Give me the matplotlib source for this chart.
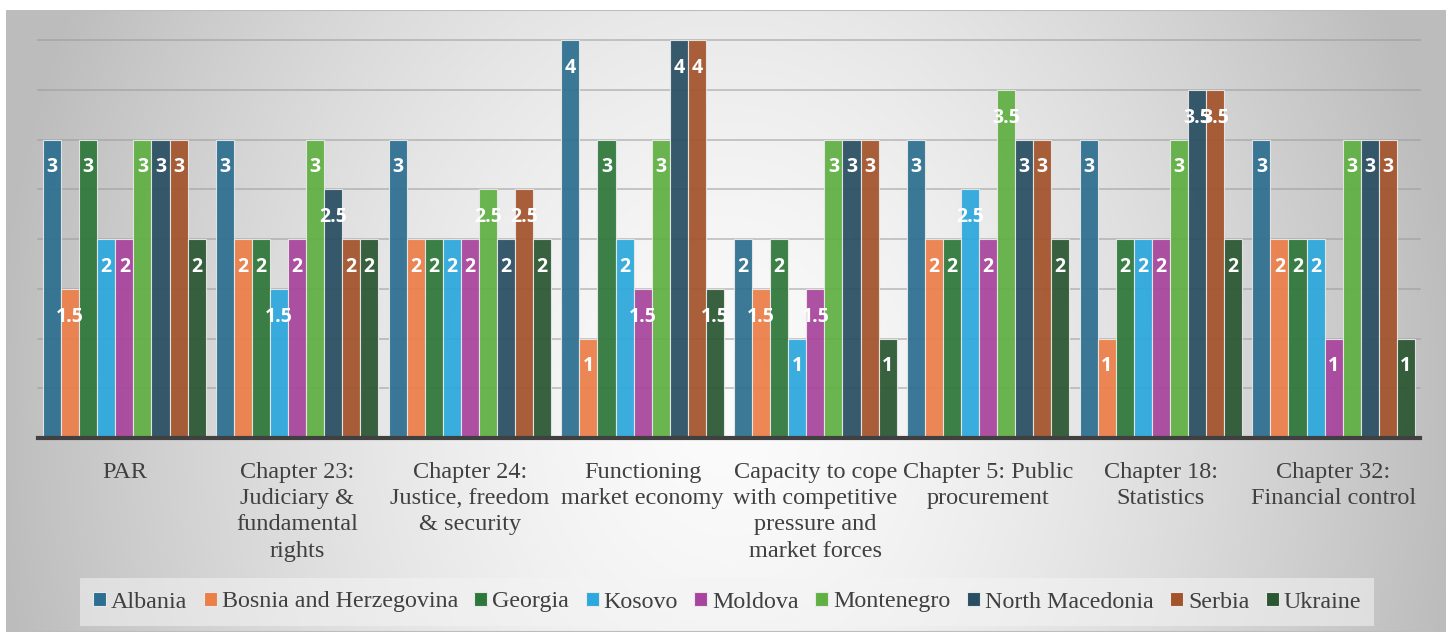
import numpy as np
import matplotlib.pyplot as plt

categories = ["PAR",
              "Chapter 23:\nJudiciary &\nfundamental\nrights",
              "Chapter 24:\nJustice, freedom\n& security",
              "Functioning\nmarket economy",
              "Capacity to cope\nwith competitive\npressure and\nmarket forces",
              "Chapter 5: Public\nprocurement",
              "Chapter 18:\nStatistics",
              "Chapter 32:\nFinancial control"]

countries = ["Albania", "Bosnia and Herzegovina", "Georgia", "Kosovo", "Moldova",
             "Montenegro", "North Macedonia", "Serbia", "Ukraine"]

albania = [3, 3, 3, 4, 2, 3, 3, 3]
bosnia = [1.5, 2, 2, 1, 1.5, 2, 1, 2]
georgia = [3, 2, 2, 3, 2, 2, 2, 2]
kosovo = [2, 1.5, 2, 2, 1, 2.5, 2, 2]
moldova = [2, 2, 2, 1.5, 1.5, 2, 2, 1]
montenegro = [3, 3, 2.5, 3, 3, 3.5, 3, 3]
north_macedonia = [3, 2.5, 2, 4, 3, 3, 3.5, 3]
serbia = [3, 2, 2.5, 4, 3, 3, 3.5, 3]
ukraine = [2, 2, 2, 1.5, 1, 2, 2, 1]

series = [albania, bosnia, georgia, kosovo, moldova, montenegro,
          north_macedonia, serbia, ukraine]
colors = ["#2d6f90", "#ec7e48", "#2e773a", "#2ba8dc", "#a8449d",
          "#5fb042", "#284e62", "#a3532a", "#2a5632"]

W, H = 1453, 632
fig = plt.figure(figsize=(W / 100, H / 100), dpi=100)
fig.patch.set_facecolor("white")

# gradient background panel (light centre, grey edges)
bg = fig.add_axes([6 / W, 0, (1446 - 6) / W, (H - 10) / H], zorder=0)
yy, xx = np.mgrid[0:311, 0:720] * 2.0
r = np.sqrt(((xx - 720) / 720) ** 2 + ((yy - 400) / 900) ** 2)
g = np.clip(0.985 - 0.24 * r ** 1.5, 0.74, 0.985)
bg.imshow(np.dstack([g, g, g]), aspect="auto", extent=[0, 1, 0, 1], origin="upper")
bg.set_axis_off()
bg.add_patch(plt.Rectangle((0, 0), 1, 1, transform=bg.transAxes, fill=False,
                           edgecolor="#bdbdbd", lw=1.5))

ax = fig.add_axes([38 / W, 1 - 438 / H, (1420 - 38) / W, (438 - 40) / H], zorder=1)
ax.patch.set_alpha(0)

x = np.arange(len(categories))
pitch = 0.1045
for i, (vals, col, name) in enumerate(zip(series, colors, countries)):
    pos = x + (i - 4) * pitch
    bars = ax.bar(pos, vals, width=pitch, color=col, alpha=0.93,
                  edgecolor="#e8e8e8", linewidth=0.8, label=name, zorder=3)
    for b, v in zip(bars, vals):
        ax.annotate(f"{v:g}", (b.get_x() + b.get_width() / 2, v),
                    xytext=(0, -20), textcoords="offset points",
                    ha="center", va="center", color="white",
                    fontsize=14, fontweight="bold", family="Open Sans", zorder=5)

ax.set_xlim(-0.5, len(categories) - 0.5)
ax.set_ylim(0, 4)
ax.set_yticks(np.arange(0, 4.01, 0.5))
ax.yaxis.grid(True, color="#9a9a9a", lw=1.2, alpha=0.6, zorder=0)
for t in ax.get_ygridlines():
    t.set_clip_on(False)
ax.set_yticklabels([])
ax.tick_params(axis="y", length=0)
ax.set_xticks(x)
ax.set_xticklabels(categories, family="Liberation Serif", fontsize=17.5,
                   color="#404040", linespacing=1.34)
ax.tick_params(axis="x", length=0, pad=17)
for s in ["top", "right", "left"]:
    ax.spines[s].set_visible(False)
ax.spines["bottom"].set_color("#404040")
ax.spines["bottom"].set_linewidth(3)
ax.spines["bottom"].set_zorder(6)

leg = fig.legend(loc="center", bbox_to_anchor=(727 / W, 1 - 602 / H), ncol=9,
                 frameon=True, handlelength=0.55, handleheight=0.55,
                 handletextpad=0.2, columnspacing=0.68, borderpad=0.25,
                 prop={"family": "Liberation Serif", "size": 17.3})
leg.get_frame().set_facecolor("#f4f4f4")
leg.get_frame().set_alpha(0.55)
leg.get_frame().set_edgecolor("none")
leg.get_frame().set_boxstyle("square")
for t in leg.get_texts():
    t.set_color("#404040")
for h in leg.legend_handles:
    h.set_alpha(1)

fig.savefig("out.png", dpi=100, facecolor=fig.get_facecolor())
